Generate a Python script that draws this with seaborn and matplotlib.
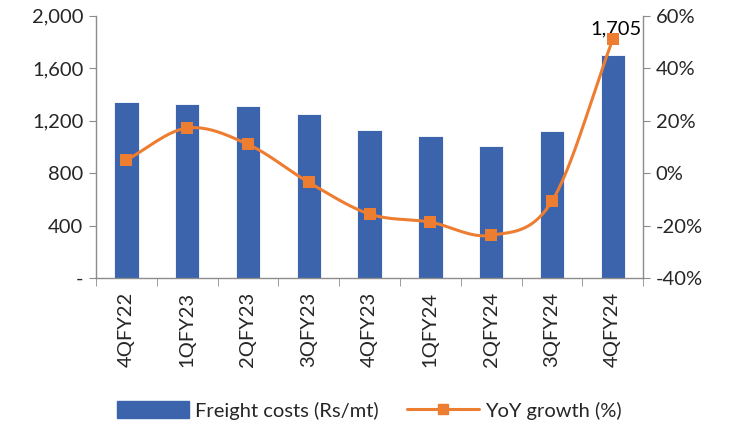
import numpy as np
import pandas as pd
import matplotlib
matplotlib.use("Agg")
import matplotlib.pyplot as plt
from matplotlib.ticker import FuncFormatter, FixedLocator
from matplotlib.lines import Line2D
from matplotlib.patches import Patch
import seaborn as sns

# ── data ──────────────────────────────────────────────
quarters = ["4QFY22", "1QFY23", "2QFY23", "3QFY23", "4QFY23",
            "1QFY24", "2QFY24", "3QFY24", "4QFY24"]
freight = [1343, 1328, 1313, 1252, 1130, 1084, 1008, 1122, 1705]
yoy = [5.0, 17.2, 11.0, -3.5, -15.6, -18.7, -23.7, -10.7, 51.0]

bar_color = "#3C64AD"
line_color = "#ED7D31"
axis_gray = "#8C8C8C"
fs = 14.5

sns.set_style("white")
plt.rcParams["font.family"] = ["Lato", "DejaVu Sans"]

df = pd.DataFrame({"quarter": quarters, "freight": freight, "yoy": yoy})

fig = plt.figure(figsize=(7.3, 4.29), dpi=100)
ax = fig.add_axes([0.1315, 0.352, 0.7495, 0.611])

sns.barplot(data=df, x="quarter", y="freight", color=bar_color, width=0.4,
            saturation=1, edgecolor="white", linewidth=0.6, ax=ax)
ax.set_xlim(-0.5, len(quarters) - 0.5)
ax.set_ylim(0, 2000)
ax.set_xlabel("")
ax.set_ylabel("")
ax.yaxis.set_major_locator(FixedLocator([0, 400, 800, 1200, 1600, 2000]))
ax.yaxis.set_major_formatter(FuncFormatter(lambda v, p: "-" if v == 0 else f"{v:,.0f}"))
ax.tick_params(axis="y", labelsize=fs, length=5, color=axis_gray, direction="out", left=True, pad=4)
ax.set_xticks(range(len(quarters)))
ax.set_xticklabels(quarters, rotation=90, fontsize=fs)
ax.tick_params(axis="x", which="major", length=0, pad=10)
ax.xaxis.set_minor_locator(FixedLocator(np.arange(-0.5, len(quarters), 1.0)))
ax.tick_params(axis="x", which="minor", length=6, color=axis_gray, direction="out", bottom=True)

for side in ["top", "right"]:
    ax.spines[side].set_visible(False)
for side in ["left", "bottom"]:
    ax.spines[side].set_color(axis_gray)
    ax.spines[side].set_linewidth(1)

# label on last bar
ax.text(len(quarters) - 0.95, 1705 + 130, f"{freight[-1]:,}", ha="center", va="bottom",
        fontsize=fs, color="black")

# ── growth on secondary axis ──────────────────────────
ax2 = ax.twinx()
ax2.set_ylim(-40, 60)

# smoothed line through the points (Catmull-Rom, like Excel smoothing)
xs = np.arange(len(yoy), dtype=float)
ys = np.array(yoy, dtype=float)
px = np.concatenate([[2 * xs[0] - xs[1]], xs, [2 * xs[-1] - xs[-2]]])
py = np.concatenate([[2 * ys[0] - ys[1]], ys, [2 * ys[-1] - ys[-2]]])
cx, cy = [], []
for i in range(1, len(px) - 2):
    t = np.linspace(0, 1, 30)
    for arr, out in ((px, cx), (py, cy)):
        p0, p1, p2, p3 = arr[i - 1], arr[i], arr[i + 1], arr[i + 2]
        out.extend(0.5 * ((2 * p1) + (-p0 + p2) * t
                          + (2 * p0 - 5 * p1 + 4 * p2 - p3) * t ** 2
                          + (-p0 + 3 * p1 - 3 * p2 + p3) * t ** 3))
ax2.plot(cx, cy, color=line_color, linewidth=2.2, zorder=3)
sns.scatterplot(x=xs, y=ys, marker="s", s=70, color=line_color, edgecolor=line_color,
                linewidth=0, ax=ax2, zorder=4)

ax2.yaxis.set_major_locator(FixedLocator([-40, -20, 0, 20, 40, 60]))
ax2.yaxis.set_major_formatter(FuncFormatter(lambda v, p: f"{v:.0f}%"))
ax2.tick_params(axis="y", labelsize=fs, length=5, color=axis_gray, direction="out", right=True, pad=4)
ax2.set_ylabel("")
for side in ["top", "left", "bottom"]:
    ax2.spines[side].set_visible(False)
ax2.spines["right"].set_color(axis_gray)
ax2.spines["right"].set_linewidth(1)

# ── legend ────────────────────────────────────────────
handles = [Patch(facecolor=bar_color, edgecolor=bar_color),
           Line2D([0], [0], color=line_color, linewidth=2.2, marker="s", markersize=7)]
fig.legend(handles, ["Freight costs (Rs/mt)", "YoY growth (%)"], loc="center",
           bbox_to_anchor=(0.506, 0.043), ncol=2, frameon=False, fontsize=fs,
           handlelength=3.6, handleheight=0.9, columnspacing=1.4, handletextpad=0.3)

fig.savefig("out.png", dpi=100)
